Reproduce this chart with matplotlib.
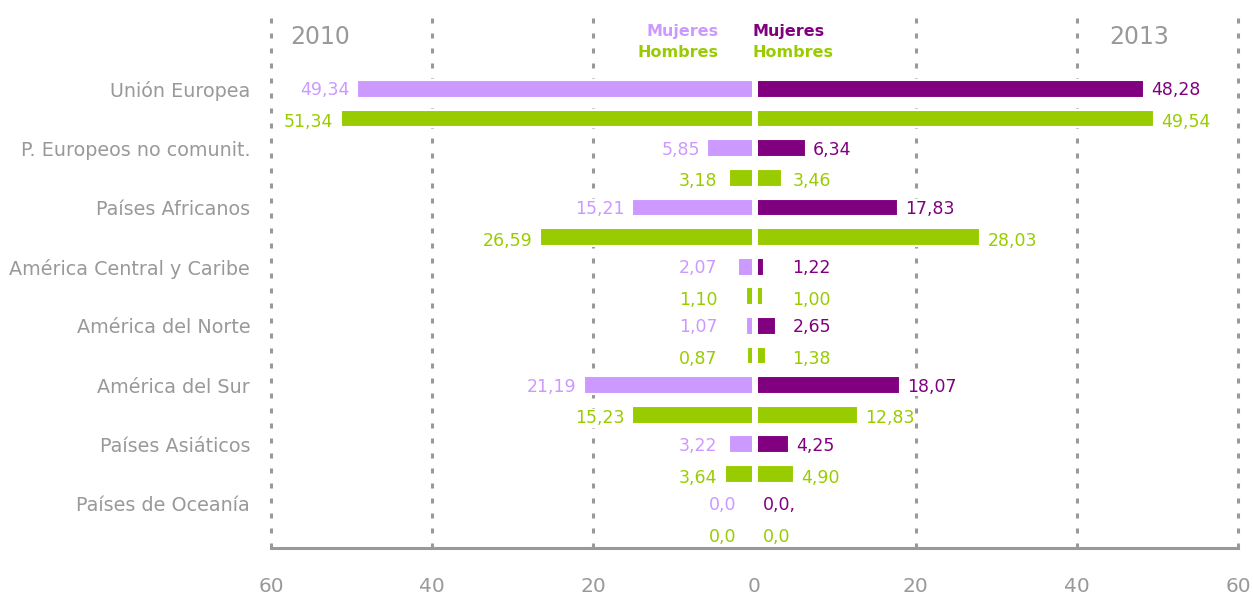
import matplotlib
matplotlib.use("Agg")
import matplotlib.pyplot as plt

# ---------------- data ----------------
categories = ["Unión Europea", "P. Europeos no comunit.", "Países Africanos",
              "América Central y Caribe", "América del Norte", "América del Sur",
              "Países Asiáticos", "Países de Oceanía"]
mujeres_2010 = [49.34, 5.85, 15.21, 2.07, 1.07, 21.19, 3.22, 0.0]
hombres_2010 = [51.34, 3.18, 26.59, 1.10, 0.87, 15.23, 3.64, 0.0]
mujeres_2013 = [48.28, 6.34, 17.83, 1.22, 2.65, 18.07, 4.25, 0.0]
hombres_2013 = [49.54, 3.46, 28.03, 1.00, 1.38, 12.83, 4.90, 0.0]
xticks = [-60, -40, -20, 0, 20, 40, 60]
year_left, year_right = "2010", "2013"

# ---------------- style ----------------
C_MUJ_L = "#CC99FF"
C_MUJ_R = "#800080"
C_HOM = "#99CC00"
GRAY = "#999999"

plt.rcParams["font.family"] = ["DejaVu Sans"]
plt.rcParams["lines.scale_dashes"] = False

W, H = 1253, 597
fig = plt.figure(figsize=(W / 100, H / 100), dpi=100)
ax = fig.add_axes([271 / W, 49 / H, (1238 - 271) / W, (548 - 12) / H])
ax.set_xlim(-60, 60)
ax.set_ylim(15.5, -2.6)

n = len(categories)
y_m = [2 * i for i in range(n)]
y_h = [2 * i + 1 for i in range(n)]
bh = 0.6
elw = 1.5

ax.barh(y_m, [-v for v in mujeres_2010], height=bh, color=C_MUJ_L, edgecolor="white", lw=elw, zorder=2)
ax.barh(y_h, [-v for v in hombres_2010], height=bh, color=C_HOM, edgecolor="white", lw=elw, zorder=2)
ax.barh(y_m, mujeres_2013, height=bh, color=C_MUJ_R, edgecolor="white", lw=elw, zorder=2)
ax.barh(y_h, hombres_2013, height=bh, color=C_HOM, edgecolor="white", lw=elw, zorder=2)
ax.axvline(0, color="white", lw=4.3, zorder=3)

# dashed gridlines
for gx in [-60, -40, -20, 20, 40, 60]:
    ax.axvline(gx, color=GRAY, lw=2.2, ls=(0, (3.6, 7.2)), zorder=0, clip_on=False)

def fmt(v, zero="0,0"):
    return zero if v == 0 else f"{v:.2f}".replace(".", ",")

FS_VAL = 12.5
box = dict(facecolor="white", edgecolor="none", pad=0.5)
for i in range(n):
    for vals, y, col, side, dy, zero in [
        (mujeres_2010, y_m[i], C_MUJ_L, -1, 0.05, "0,0"),
        (hombres_2010, y_h[i], C_HOM, -1, 0.12, "0,0"),
        (mujeres_2013, y_m[i], C_MUJ_R, 1, 0.05, "0,0,"),
        (hombres_2013, y_h[i], C_HOM, 1, 0.12, "0,0"),
    ]:
        v = vals[i]
        if side < 0:
            x = -2.3 if v == 0 else -max(v + 0.9, 4.6)
            ha = "right"
        else:
            x = 1.0 if v == 0 else max(v + 0.9, 4.7)
            ha = "left"
        ax.text(x, y + dy, fmt(v, zero), color=col, fontsize=FS_VAL, ha=ha, va="center",
                zorder=4, bbox=box)

# headers
ax.text(-57.6, -1.75, year_left, color=GRAY, fontsize=17, ha="left", va="center")
ax.text(51.4, -1.75, year_right, color=GRAY, fontsize=17, ha="right", va="center")
FS_LEG = 11.5
ax.text(-4.5, -1.93, "Mujeres", color=C_MUJ_L, fontsize=FS_LEG, fontweight="bold", ha="right", va="center")
ax.text(-4.5, -1.22, "Hombres", color=C_HOM, fontsize=FS_LEG, fontweight="bold", ha="right", va="center")
ax.text(-0.2, -1.93, "Mujeres", color=C_MUJ_R, fontsize=FS_LEG, fontweight="bold", ha="left", va="center")
ax.text(-0.2, -1.22, "Hombres", color=C_HOM, fontsize=FS_LEG, fontweight="bold", ha="left", va="center")

# axes styling
for s in ["top", "left", "right"]:
    ax.spines[s].set_visible(False)
ax.spines["bottom"].set_color(GRAY)
ax.spines["bottom"].set_linewidth(2.2)
ax.spines["bottom"].set_zorder(5)

ax.set_xticks(xticks)
ax.set_xticklabels([str(abs(t)) for t in xticks], color=GRAY, fontsize=14.5)
ax.tick_params(axis="x", length=0, pad=21)
ax.set_yticks(y_m)
ax.set_yticklabels(categories, color=GRAY, fontsize=13.8)
ax.tick_params(axis="y", length=0, pad=15)

fig.savefig("out.png", dpi=100, facecolor="white")
